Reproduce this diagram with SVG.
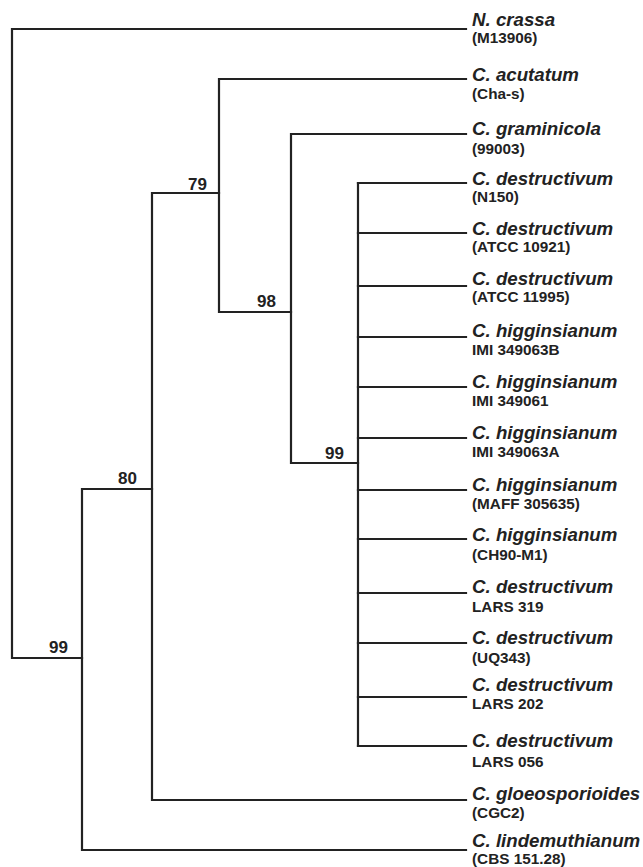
<svg xmlns="http://www.w3.org/2000/svg" width="643" height="867" viewBox="0 0 643 867">
<style>
.e{fill:none;stroke:#222;stroke-width:2.2;stroke-linecap:square}
.sp{font-family:"Liberation Sans",Arial,sans-serif;font-weight:bold;font-style:italic;font-size:18.7px;fill:#222}
.st{font-family:"Liberation Sans",Arial,sans-serif;font-weight:bold;font-size:15.3px;fill:#222}
.bs{font-family:"Liberation Sans",Arial,sans-serif;font-weight:bold;font-size:17px;fill:#222;text-anchor:end}
</style>
<rect width="643" height="867" fill="#fff"/>
<g id="connectors">
<path class="e" d="M466 29H12V658H82"/>
<path class="e" d="M82 489V850H466M82 489H152"/>
<path class="e" d="M152 193V800H466M152 193H219"/>
<path class="e" d="M219 79V312H291M219 79H466"/>
<path class="e" d="M291 134V463H358M291 134H466"/>
<path class="e" d="M358 183V746"/>
<path class="e" d="M358 183H466M358 233H466M358 286H466M358 337H466M358 387H466M358 438H466M358 490H466M358 539H466M358 593H466M358 643H466M358 697H466M358 746H466"/>
</g>
<g id="node-root"><text class="bs" x="68" y="653">99</text></g>
<g id="node-80"><text class="bs" x="137" y="484">80</text></g>
<g id="node-79"><text class="bs" x="207" y="190">79</text></g>
<g id="node-98"><text class="bs" x="276" y="307">98</text></g>
<g id="node-99b"><text class="bs" x="344" y="459">99</text></g>
<g id="tip-ncrassa"><text class="sp" x="472" y="26">N. crassa</text><text class="st" x="472" y="43">(M13906)</text></g>
<g id="tip-acutatum"><text class="sp" x="472" y="81">C. acutatum</text><text class="st" x="472" y="99">(Cha-s)</text></g>
<g id="tip-graminicola"><text class="sp" x="472" y="135">C. graminicola</text><text class="st" x="472" y="154">(99003)</text></g>
<g id="tip-n150"><text class="sp" x="472" y="185">C. destructivum</text><text class="st" x="472" y="202">(N150)</text></g>
<g id="tip-atcc10921"><text class="sp" x="472" y="235">C. destructivum</text><text class="st" x="472" y="252">(ATCC 10921)</text></g>
<g id="tip-atcc11995"><text class="sp" x="472" y="285">C. destructivum</text><text class="st" x="472" y="302">(ATCC 11995)</text></g>
<g id="tip-imi349063b"><text class="sp" x="472" y="337">C. higginsianum</text><text class="st" x="472" y="355">IMI 349063B</text></g>
<g id="tip-imi349061"><text class="sp" x="472" y="388">C. higginsianum</text><text class="st" x="472" y="406">IMI 349061</text></g>
<g id="tip-imi349063a"><text class="sp" x="472" y="439">C. higginsianum</text><text class="st" x="472" y="457">IMI 349063A</text></g>
<g id="tip-maff"><text class="sp" x="472" y="491">C. higginsianum</text><text class="st" x="472" y="509">(MAFF 305635)</text></g>
<g id="tip-ch90"><text class="sp" x="472" y="541">C. higginsianum</text><text class="st" x="472" y="560">(CH90-M1)</text></g>
<g id="tip-lars319"><text class="sp" x="472" y="593">C. destructivum</text><text class="st" x="472" y="612">LARS 319</text></g>
<g id="tip-uq343"><text class="sp" x="472" y="644">C. destructivum</text><text class="st" x="472" y="663">(UQ343)</text></g>
<g id="tip-lars202"><text class="sp" x="472" y="691">C. destructivum</text><text class="st" x="472" y="709">LARS 202</text></g>
<g id="tip-lars056"><text class="sp" x="472" y="747">C. destructivum</text><text class="st" x="472" y="767">LARS 056</text></g>
<g id="tip-gloeo"><text class="sp" x="472" y="800">C. gloeosporioides</text><text class="st" x="472" y="818">(CGC2)</text></g>
<g id="tip-linde"><text class="sp" x="472" y="847">C. lindemuthianum</text><text class="st" x="472" y="864">(CBS 151.28)</text></g>
</svg>
